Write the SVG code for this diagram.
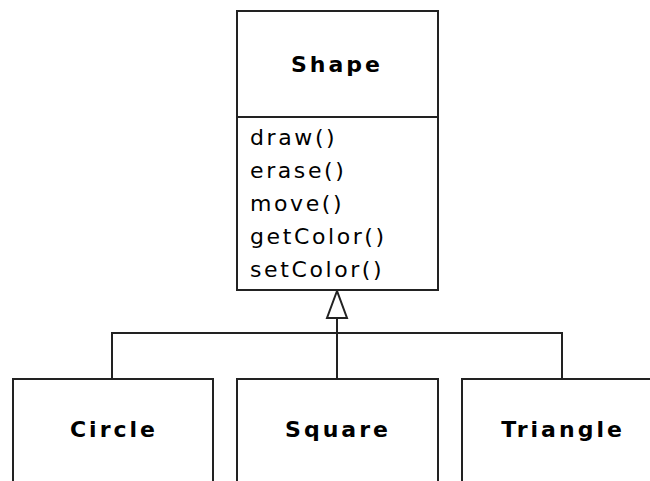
<svg xmlns="http://www.w3.org/2000/svg" width="650" height="481" viewBox="0 0 650 481">
<defs>
<style>
.box{fill:#fff;stroke:#222;stroke-width:2}
.ln{fill:none;stroke:#222;stroke-width:2}
.name{font-family:"DejaVu Sans",Verdana,sans-serif;font-weight:bold;font-size:22px;letter-spacing:3px;text-anchor:middle;fill:#000}
.op{font-family:"DejaVu Sans",Verdana,sans-serif;font-size:22px;letter-spacing:2.6px;fill:#000}
</style>
</defs>
<rect width="650" height="481" fill="#fff"/>
<g id="connectors">
<polyline class="ln" points="112,379 112,333 562,333 562,379"/>
<line class="ln" x1="337" y1="318" x2="337" y2="379"/>
<polygon class="ln" points="337,291 327,318 347,318" fill="#fff"/>
</g>
<g id="Shape">
<rect class="box" x="237" y="11" width="201" height="279"/>
<line class="ln" x1="237" y1="117" x2="438" y2="117"/>
<text class="name" x="337" y="72">Shape</text>
<text class="op" x="250" y="145">draw()</text>
<text class="op" x="250" y="178">erase()</text>
<text class="op" x="250" y="211">move()</text>
<text class="op" x="250" y="244">getColor()</text>
<text class="op" x="250" y="277">setColor()</text>
</g>
<g id="Circle">
<rect class="box" x="13" y="379" width="200" height="130"/>
<text class="name" x="114" y="437">Circle</text>
</g>
<g id="Square">
<rect class="box" x="237" y="379" width="201" height="130"/>
<text class="name" x="338" y="437">Square</text>
</g>
<g id="Triangle">
<rect class="box" x="462" y="379" width="200" height="130"/>
<text class="name" x="563" y="437">Triangle</text>
</g>
</svg>
